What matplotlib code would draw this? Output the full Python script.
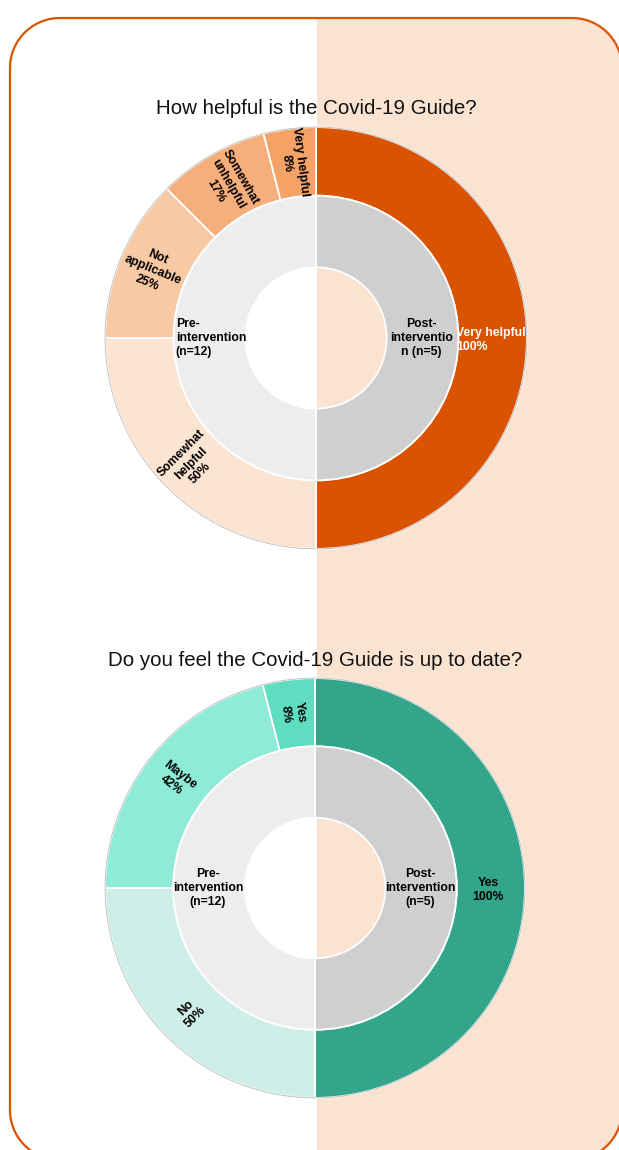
"""Two nested donut charts: Covid-19 Guide survey, pre vs post intervention."""
import numpy as np
import matplotlib

matplotlib.use("Agg")
import matplotlib.pyplot as plt
from matplotlib.patches import Polygon, Rectangle, Circle

# ---- data ----
groups = ["Pre-\nintervention\n(n=12)", "Post-\nintervention\n(n=5)"]

q1_title = "How helpful is the Covid-19 Guide?"
q1_post_labels = ["Very helpful"]
q1_post_pct = [100]
q1_pre_labels = ["Somewhat\nhelpful", "Not\napplicable", "Somewhat\nunhelpful", "Very helpful"]
q1_pre_pct = [50, 25, 17, 8]

q2_title = "Do you feel the Covid-19 Guide is up to date?"
q2_post_labels = ["Yes"]
q2_post_pct = [100]
q2_pre_labels = ["No", "Maybe", "Yes"]
q2_pre_pct = [50, 42, 8]

# ---- styling ----
W, H = 619, 1150
PEACH = "#FBE3D1"
ORANGE = "#D95300"
q1_post_colors = [ORANGE]
q1_pre_colors = ["#FCE4D2", "#F8C9A3", "#F6AE7B", "#F4A266"]
q2_post_colors = ["#33A58A"]
q2_pre_colors = ["#CDEFE7", "#8DEBD8", "#5EDDC1"]
inner_colors = ["#CFCFCF", "#EDEDED"]  # post (right), pre (left)
FAMILY = ["Liberation Sans", "DejaVu Sans"]
LABEL_FONT = dict(family=FAMILY, fontweight="bold", fontsize=8.8)


def rounded_rect(x0, y0, x1, y1, rad, n=40):
    """Vertices of a rounded rectangle (pixel units, y up)."""
    pts = []
    corners = [(x1 - rad, y1 - rad, 0), (x0 + rad, y1 - rad, 90),
               (x0 + rad, y0 + rad, 180), (x1 - rad, y0 + rad, 270)]
    for cx, cy, a0 in corners:
        t = np.radians(np.linspace(a0, a0 + 90, n))
        pts.append(np.column_stack([cx + rad * np.cos(t), cy + rad * np.sin(t)]))
    return np.vstack(pts)


fig = plt.figure(figsize=(W / 100, H / 100), dpi=100)
fig.patch.set_facecolor("white")

# background axes in pixel units (y measured from the bottom)
bg = fig.add_axes([0, 0, 1, 1])
bg.set_xlim(0, W)
bg.set_ylim(0, H)
bg.axis("off")
border = Polygon(rounded_rect(10, H - 1160, 622, H - 18, 50), closed=True,
                 facecolor="none", edgecolor=ORANGE, linewidth=1.6, zorder=3)
bg.add_patch(border)
peach = Rectangle((317, -20), 320, H + 40, facecolor=PEACH, edgecolor="none", zorder=1)
bg.add_patch(peach)
peach.set_clip_path(border)


def donut(cx, cy, r, title, title_y, pre_pct, pre_labels, pre_colors,
          post_pct, post_labels, post_colors, post_text, pre_ha, post_color_text):
    ax = fig.add_axes([(cx - r) / W, (H - cy - r) / H, 2 * r / W, 2 * r / H])
    vals = list(post_pct) + list(pre_pct)
    labels = list(post_labels) + list(pre_labels)
    wedges, _ = ax.pie(vals, radius=1.0, colors=list(post_colors) + list(pre_colors),
                       startangle=90, counterclock=False,
                       wedgeprops=dict(width=0.325, edgecolor="white", linewidth=1.3))
    ax.pie([1, 1], radius=0.675, colors=inner_colors, startangle=90, counterclock=False,
           wedgeprops=dict(width=0.34, edgecolor="white", linewidth=1.3))
    ax.add_patch(Circle((0, 0), 1.0, facecolor="none", edgecolor="#BBBBBB", linewidth=0.6))
    ax.set_xlim(-1.01, 1.01)
    ax.set_ylim(-1.01, 1.01)
    ax.set_aspect("equal")
    ax.axis("off")

    # outer ring labels for pre wedges, rotated along the radius
    for w, lab, pct in zip(wedges[1:], labels[1:], pre_pct):
        mid = (w.theta1 + w.theta2) / 2
        x = 0.84 * np.cos(np.radians(mid))
        y = 0.84 * np.sin(np.radians(mid))
        ax.text(x, y, f"{lab}\n{pct}%", rotation=mid - 180, rotation_mode="anchor",
                ha="center", va="center", multialignment="center", **LABEL_FONT)

    # post label (right half)
    tx, tha = post_text
    ax.text(tx, -0.01, f"{post_labels[0]}\n{post_pct[0]}%", ha=tha, va="center",
            multialignment=tha, color=post_color_text, **LABEL_FONT)

    # inner ring group labels
    px, pha = pre_ha
    ax.text(px, 0.0, groups[0], ha=pha, va="center", multialignment=pha, **LABEL_FONT)
    post_group = groups[1] if pha == "center" else "Post-\ninterventio\nn (n=5)"
    ax.text(0.50, 0.0, post_group, ha="center", va="center", multialignment="center",
            **LABEL_FONT)

    bg.text(cx, H - title_y, title, ha="center", va="center", fontsize=14.8,
            family=FAMILY, color="#111111", zorder=4)
    return ax


donut(316, 338, 213, q1_title, 108, q1_pre_pct, q1_pre_labels, q1_pre_colors,
      q1_post_pct, q1_post_labels, q1_post_colors, (0.665, "left"), (-0.665, "left"), "white")
donut(315, 888, 212, q2_title, 660, q2_pre_pct, q2_pre_labels, q2_pre_colors,
      q2_post_pct, q2_post_labels, q2_post_colors, (0.825, "center"), (-0.51, "center"), "black")

fig.savefig("out.png", dpi=100)
